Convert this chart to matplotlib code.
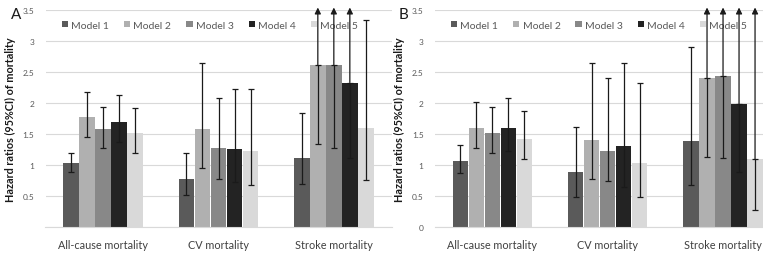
import matplotlib
matplotlib.use('Agg')
import matplotlib.pyplot as plt
import numpy as np

plt.rcParams['font.family'] = ['Lato', 'DejaVu Sans']

categories = ['All-cause mortality', 'CV mortality', 'Stroke mortality']
models = ['Model 1', 'Model 2', 'Model 3', 'Model 4', 'Model 5']
colors = ['#5a5a5a', '#b0b0b0', '#888888', '#232323', '#d9d9d9']

# Panel A: hazard ratios and 95% CI, one list per model (values per category)
# hi = None means the upper limit runs off the chart (drawn as an arrow)
a_hr = [[1.03, 0.78, 1.12],
        [1.78, 1.58, 2.61],
        [1.58, 1.27, 2.61],
        [1.70, 1.26, 2.33],
        [1.51, 1.22, 1.59]]
a_lo = [[0.89, 0.52, 0.69],
        [1.45, 0.95, 1.34],
        [1.28, 0.78, 1.28],
        [1.37, 0.73, 1.11],
        [1.19, 0.67, 0.76]]
a_hi = [[1.19, 1.20, 1.84],
        [2.17, 2.64, None],
        [1.94, 2.08, None],
        [2.13, 2.22, None],
        [1.92, 2.23, 3.34]]

# Panel B
b_hr = [[1.06, 0.89, 1.39],
        [1.60, 1.40, 2.40],
        [1.51, 1.23, 2.44],
        [1.60, 1.31, 1.98],
        [1.42, 1.03, 1.10]]
b_lo = [[0.87, 0.49, 0.67],
        [1.27, 0.77, 1.13],
        [1.20, 0.74, 1.11],
        [1.23, 0.65, 0.88],
        [1.10, 0.48, 0.27]]
b_hi = [[1.32, 1.61, 2.91],
        [2.02, 2.65, None],
        [1.94, 2.41, None],
        [2.08, 2.64, None],
        [1.87, 2.32, None]]

fig = plt.figure(figsize=(7.63, 2.55), dpi=100)
W, H = 763, 255

def draw_panel(left_px, letter, letter_x, hr, lo, hi, show_zero):
    ax = fig.add_axes([left_px / W, (H - 228) / H, 346 / W, 217 / H])
    x = np.arange(len(categories))
    bw = 16 / 115.3
    for i in range(len(models)):
        xs = x + (i - 2) * bw
        ax.bar(xs, hr[i], width=bw * 0.97, color=colors[i], zorder=2, label=models[i])
        for j in range(len(categories)):
            if hi[i][j] is None:
                # lower half with cap, then arrow upward past the top
                ax.errorbar(xs[j], hr[i][j], yerr=[[hr[i][j] - lo[i][j]], [0]],
                            fmt='none', ecolor='#1a1a1a', elinewidth=0.9,
                            capsize=2, capthick=0.9, zorder=3)
                ax.annotate('', xy=(xs[j], 3.54), xytext=(xs[j], hr[i][j]),
                            arrowprops=dict(arrowstyle='-|>', color='#1a1a1a', lw=0.9,
                                            mutation_scale=9, shrinkA=0, shrinkB=0),
                            annotation_clip=False, zorder=7)
            else:
                ax.errorbar(xs[j], hr[i][j],
                            yerr=[[hr[i][j] - lo[i][j]], [hi[i][j] - hr[i][j]]],
                            fmt='none', ecolor='#1a1a1a', elinewidth=0.9,
                            capsize=2, capthick=0.9, zorder=3)
    ax.set_xlim(-0.5, 2.5)
    ax.set_ylim(0, 3.5)
    ax.set_yticks([0, 0.5, 1, 1.5, 2, 2.5, 3, 3.5])
    labels = ['0' if show_zero else '', '0.5', '1', '1.5', '2', '2.5', '3', '3.5']
    ax.set_yticklabels(labels, fontsize=6, color='#595959')
    ax.set_xticks(x)
    ax.set_xticklabels(categories, fontsize=7.8, color='#404040')
    ax.tick_params(axis='both', length=0)
    ax.tick_params(axis='y', pad=8)
    ax.tick_params(axis='x', pad=9)
    ax.grid(axis='y', color='#d9d9d9', lw=0.8, zorder=0)
    ax.set_axisbelow(True)
    for s in ['top', 'right', 'left']:
        ax.spines[s].set_visible(False)
    ax.spines['bottom'].set_color('#d9d9d9')
    ax.spines['bottom'].set_linewidth(0.8)
    ax.set_ylabel('Hazard ratios (95%CI) of mortality', fontsize=7.8, fontweight='bold',
                  color='#1a1a1a')
    ax.yaxis.set_label_coords(-0.085, 0.5)
    leg = ax.legend(loc='center', bbox_to_anchor=(0.475, 0.93), ncol=5, frameon=False,
                    fontsize=7.5, handlelength=0.6, handleheight=0.6, handletextpad=0.3,
                    columnspacing=1.45, labelcolor='#595959')
    leg.set_zorder(4)
    fig.text(letter_x / W, 1 - 15 / H, letter, fontsize=11, color='#1a1a1a',
             ha='center', va='center')
    return ax

draw_panel(45.5, 'A', 16, a_hr, a_lo, a_hi, False)
draw_panel(434.7, 'B', 404, b_hr, b_lo, b_hi, True)

fig.savefig('out.png', dpi=100)
